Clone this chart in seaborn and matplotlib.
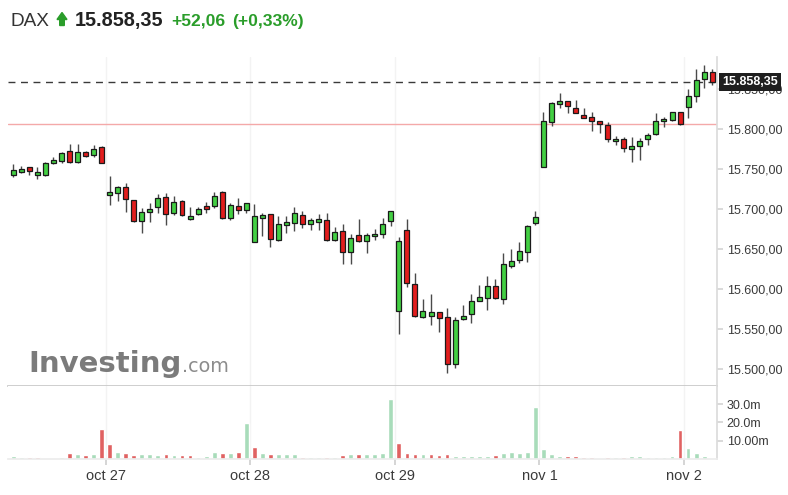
import numpy as np
import pandas as pd
import matplotlib
matplotlib.use('Agg')
import matplotlib.pyplot as plt
from matplotlib.patches import Polygon
import seaborn as sns

# DAX, 30 min candles
opens = [15742.5, 15746.6, 15752.1, 15742.1, 15742.1, 15757.1, 15760.4, 15772.1, 15758.8, 15770.9, 15767.1, 15777.1,
         15717.1, 15720.4, 15727.1, 15711.3, 15684.6, 15696.3, 15702.1, 15714.6, 15694.6, 15710.0, 15687.1, 15693.8, 15703.4, 15703.4, 15720.9, 15689.1, 15703.4, 15698.8,
         15659.1, 15689.1, 15693.4, 15661.6, 15680.0, 15682.9, 15692.9, 15680.9, 15684.1, 15686.3, 15661.3, 15672.1, 15645.9, 15667.1, 15659.6, 15666.3, 15668.8, 15684.6,
         15572.1, 15673.8, 15606.3, 15565.0, 15566.6, 15570.9, 15564.6, 15505.9, 15562.1, 15568.4, 15585.4, 15588.4, 15603.4, 15587.9, 15629.1, 15636.6, 15646.6, 15682.9,
         15752.9, 15809.1, 15830.9, 15835.0, 15826.6, 15817.1, 15815.4, 15809.6, 15804.6, 15785.0, 15787.5, 15774.6, 15778.4, 15787.1, 15793.4, 15809.6, 15811.3, 15820.9,
         15827.9, 15841.3, 15862.5, 15871.6]
highs = [15755.9, 15754.1, 15752.5, 15752.1, 15758.4, 15765.4, 15770.9, 15780.9, 15780.9, 15772.1, 15779.6, 15778.4,
         15741.6, 15728.8, 15732.9, 15711.5, 15700.9, 15707.1, 15718.4, 15720.4, 15716.3, 15711.3, 15702.1, 15702.5, 15708.8, 15721.3, 15722.9, 15707.1, 15713.4, 15707.5,
         15705.9, 15695.0, 15693.8, 15691.6, 15691.6, 15702.5, 15697.5, 15688.4, 15694.1, 15695.0, 15677.9, 15680.9, 15668.4, 15687.1, 15669.6, 15674.6, 15688.4, 15697.5,
         15665.0, 15687.1, 15619.6, 15587.5, 15593.8, 15571.0, 15576.3, 15565.4, 15579.6, 15593.8, 15605.4, 15616.6, 15612.5, 15644.6, 15649.6, 15659.1, 15680.4, 15697.9,
         15821.6, 15833.4, 15845.4, 15835.5, 15836.3, 15825.9, 15820.9, 15810.0, 15809.1, 15791.3, 15790.0, 15790.0, 15789.1, 15795.4, 15819.6, 15815.4, 15821.6, 15821.6,
         15849.6, 15874.6, 15880.0, 15874.6]
lows = [15740.4, 15745.4, 15742.5, 15737.9, 15741.5, 15755.9, 15757.1, 15757.1, 15758.0, 15764.6, 15765.4, 15757.0,
        15704.6, 15709.6, 15696.6, 15684.0, 15669.6, 15683.8, 15694.6, 15680.0, 15693.0, 15691.3, 15686.5, 15691.9, 15694.6, 15700.9, 15687.5, 15686.3, 15693.4, 15695.0,
        15658.5, 15665.9, 15652.1, 15660.0, 15669.6, 15672.5, 15676.6, 15673.8, 15673.8, 15660.0, 15660.0, 15630.9, 15630.9, 15659.0, 15644.6, 15661.3, 15664.1, 15678.8,
        15543.8, 15602.9, 15565.4, 15563.4, 15555.0, 15546.6, 15495.4, 15501.6, 15561.5, 15557.1, 15585.0, 15573.8, 15587.5, 15581.6, 15626.6, 15632.9, 15634.1, 15680.0,
        15752.0, 15803.8, 15825.9, 15819.6, 15819.6, 15813.4, 15797.1, 15794.6, 15784.1, 15780.0, 15771.6, 15758.8, 15761.3, 15780.0, 15793.0, 15802.1, 15810.0, 15805.5,
        15813.4, 15834.1, 15850.9, 15855.0]
closes = [15748.8, 15750.4, 15747.1, 15746.3, 15757.1, 15761.3, 15769.6, 15758.8, 15770.9, 15765.9, 15775.0, 15757.5,
          15721.3, 15727.1, 15712.1, 15684.6, 15696.6, 15700.4, 15714.1, 15693.8, 15708.4, 15692.1, 15690.9, 15699.5, 15700.0, 15715.9, 15688.4, 15705.4, 15698.4, 15707.1,
          15690.9, 15692.1, 15662.1, 15681.6, 15684.1, 15694.4, 15681.3, 15686.6, 15687.9, 15661.3, 15671.3, 15645.9, 15664.1, 15659.6, 15667.5, 15669.1, 15681.6, 15697.1,
          15660.0, 15607.5, 15566.6, 15572.1, 15570.9, 15563.8, 15505.9, 15561.3, 15566.3, 15584.6, 15589.6, 15603.4, 15588.4, 15631.6, 15635.0, 15647.5, 15678.8, 15689.6,
          15810.0, 15832.1, 15835.0, 15828.8, 15820.4, 15814.1, 15810.0, 15806.3, 15787.1, 15787.9, 15776.6, 15778.4, 15785.0, 15792.5, 15810.0, 15812.9, 15820.9, 15805.9,
          15841.3, 15861.3, 15871.6, 15858.35]
# volume in millions
volumes = [1.6, 1.0, 1.0, 1.0, 0.8, 0.8, 1.0, 3.3, 2.6, 2.0, 2.7, 16.4,
           8.2, 3.8, 3.3, 2.2, 2.7, 2.7, 2.0, 2.7, 2.0, 2.4, 2.2, 1.3, 1.8, 4.0, 3.5, 3.5, 4.0, 19.9,
           6.7, 3.5, 2.7, 2.7, 2.7, 2.7, 1.3, 1.3, 1.3, 1.3, 1.3, 2.0, 2.7, 2.7, 2.7, 2.7, 3.5, 32.8,
           8.9, 3.5, 2.7, 2.7, 2.7, 2.2, 2.7, 1.8, 1.8, 1.8, 1.8, 1.8, 2.2, 3.3, 4.0, 3.5, 4.0, 28.6,
           5.5, 2.7, 1.8, 1.8, 1.8, 1.3, 1.3, 0.5, 1.1, 1.1, 1.3, 1.8, 1.8, 1.1, 1.1, 1.1, 1.8, 15.9,
           6.0, 3.3, 1.8, 0.4]

day_labels = ['oct 27', 'oct 28', 'oct 29', 'nov 1', 'nov 2']
day_first_candle = [12, 30, 48, 66, 84]

last_price = 15858.35
prev_close = 15806.29
price_ticks = [15500, 15550, 15600, 15650, 15700, 15750, 15800, 15850]
vol_ticks = [10, 20, 30]
vol_tick_labels = ['10.00m', '20.0m', '30.0m']

GREEN = '#43cf43'
RED = '#e21d1d'
VGREEN = '#a8dcba'
VRED = '#e06262'
TXT_GREEN = '#2a9d2a'


def de_fmt(v):
    return f'{v:,.2f}'.replace(',', 'X').replace('.', ',').replace('X', '.')


sns.set_theme(style='white')
plt.rcParams['font.family'] = ['Liberation Sans', 'DejaVu Sans']

o = np.array(opens)
c = np.array(closes)
h = np.array(highs)
l = np.array(lows)
n = len(c)
idx = np.arange(n)
prev = np.r_[c[0] - 1, c[:-1]]

df = pd.DataFrame({'i': idx, 'vol': volumes,
                   'dir': np.where(c >= prev, 'up', 'down')})

W, H = 788, 495


def box(x0, y0, x1, y1):
    return [x0 / W, 1 - y1 / H, (x1 - x0) / W, (y1 - y0) / H]


fig = plt.figure(figsize=(W / 100, H / 100), dpi=100)
ax = fig.add_axes(box(8, 57, 717, 385.7))
axv = fig.add_axes(box(8, 385.7, 717, 459))

tick_pos = [d - 0.5 for d in day_first_candle]
xlim = (-0.66, n - 0.4)

# candles
ax.vlines(idx, l, h, color='#4a4a4a', lw=1, zorder=2)
ax.bar(idx, np.maximum(np.abs(c - o), 0.9), bottom=np.minimum(o, c), width=0.62,
       color=np.where(c >= o, GREEN, RED), edgecolor='#1a1a1a', linewidth=0.9, zorder=3)
ax.axhline(last_price, color='#3a3a3a', lw=1, ls=(0, (5, 4)), zorder=1)
ax.axhline(prev_close, color='#f4a9a9', lw=1, zorder=1)

ax.set_xlim(*xlim)
ax.set_ylim(15479, 15890)
ax.set_xticks(tick_pos)
ax.tick_params(axis='x', length=0, labelbottom=False)
ax.yaxis.tick_right()
ax.set_yticks(price_ticks)
ax.set_yticklabels([de_fmt(v) for v in price_ticks])
ax.tick_params(axis='y', right=True, length=4, color='#d5d5d5', labelsize=9,
               labelcolor='#3a3a3a', pad=3)
ax.grid(axis='x', color='#f3f3f3', lw=1)
ax.grid(axis='y', visible=False)
for s in ['top', 'left']:
    ax.spines[s].set_visible(False)
ax.spines['bottom'].set_color('#c8c8c8')
ax.spines['right'].set_color('#dcdcdc')

# last price box
ax.text(1.0071, last_price, de_fmt(last_price), transform=ax.get_yaxis_transform(),
        ha='left', va='center', color='white', fontweight='bold', fontsize=9,
        bbox=dict(boxstyle='square,pad=0.25', fc='#1f1f1f', ec='none'), zorder=5)

# volume
sns.barplot(data=df, x='i', y='vol', hue='dir', palette={'up': VGREEN, 'down': VRED},
            native_scale=True, width=0.6, dodge=False, errorbar=None, legend=False,
            ax=axv, saturation=1, zorder=2)
axv.set_xlim(*xlim)
axv.set_ylim(0, 40)
axv.set_xlabel('')
axv.set_ylabel('')
axv.set_xticks(tick_pos)
axv.set_xticklabels(day_labels)
axv.tick_params(axis='x', bottom=True, length=4, color='#d0d0d0', labelsize=10.5,
                labelcolor='#3a3a3a', pad=3)
axv.yaxis.tick_right()
axv.set_yticks(vol_ticks)
axv.set_yticklabels(vol_tick_labels)
axv.tick_params(axis='y', right=True, length=4, color='#d5d5d5', labelsize=9,
                labelcolor='#3a3a3a', pad=3)
axv.grid(axis='x', color='#f3f3f3', lw=1)
axv.grid(axis='y', visible=False)
for s in ['top', 'left']:
    axv.spines[s].set_visible(False)
axv.spines['right'].set_color('#dcdcdc')
axv.spines['bottom'].set_color('#ececec')

# header
base = 1 - 26 / H
fig.text(10 / W, base, 'DAX', fontsize=13.7, color='#333333', va='baseline')
arrow = [(57, 19.5), (62, 12.5), (67, 19.5), (64.3, 19.5), (64.3, 25.5), (59.7, 25.5), (59.7, 19.5)]
fig.add_artist(Polygon([(x / W, 1 - y / H) for x, y in arrow], closed=True,
                       transform=fig.transFigure, color=TXT_GREEN))
fig.text(75 / W, base, de_fmt(last_price), fontsize=14.3, fontweight='bold', color='#222222', va='baseline')
fig.text(171 / W, base, '+52,06', fontsize=12.6, fontweight='bold', color=TXT_GREEN, va='baseline')
fig.text(232 / W, base, '(+0,33%)', fontsize=12.6, fontweight='bold', color=TXT_GREEN, va='baseline')

# watermark
fig.text(28 / W, 1 - 371.7 / H, 'Investing', family='DejaVu Sans', fontweight='bold',
         fontsize=21, color='#7b7b7b', va='baseline')
fig.text(181.7 / W, 1 - 371.7 / H, '.com', family='DejaVu Sans', fontsize=13.8,
         color='#8c8c8c', va='baseline')

fig.savefig('out.png', dpi=100)
